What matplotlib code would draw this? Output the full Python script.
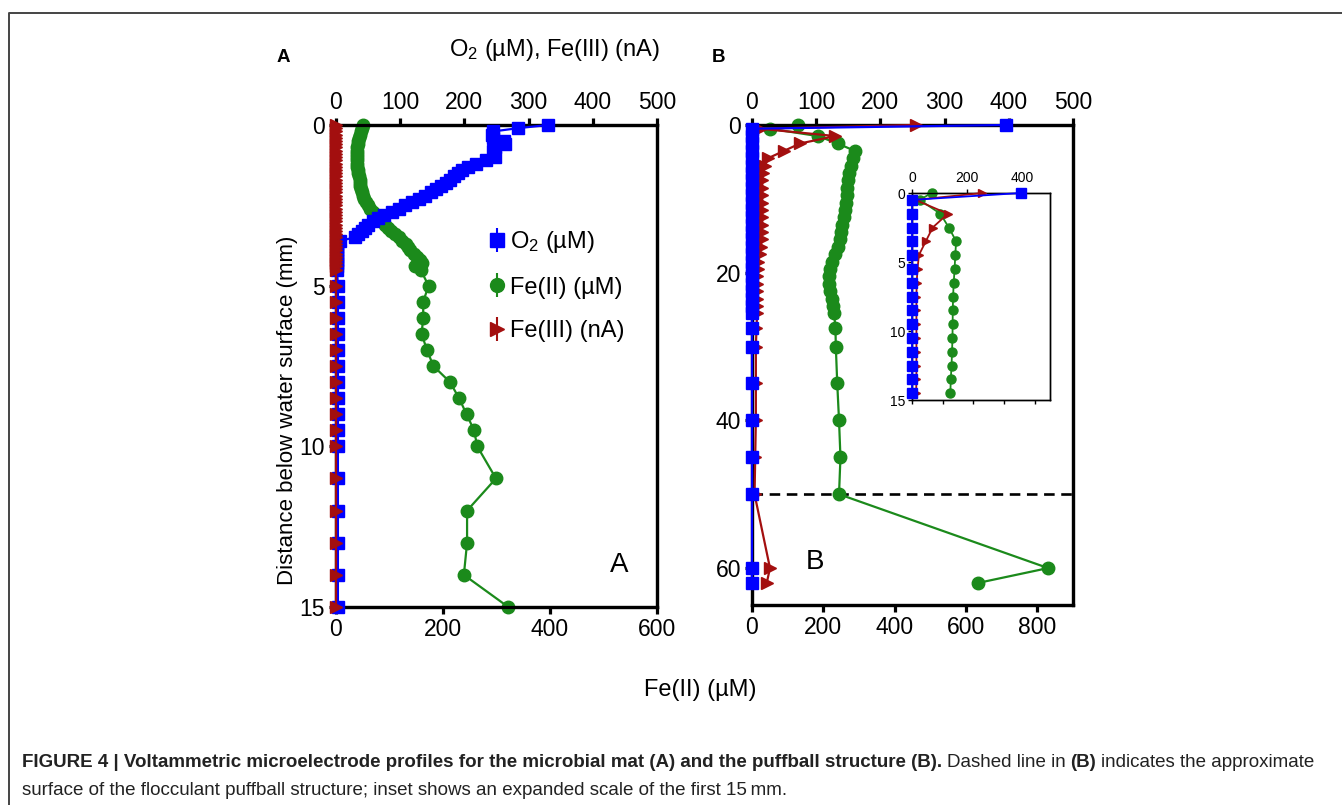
import matplotlib
matplotlib.use("Agg")
import matplotlib.pyplot as plt
import numpy as np
from matplotlib import font_manager
from matplotlib.lines import Line2D
from matplotlib.legend_handler import HandlerTuple

plt.rcParams['font.family'] = ['Liberation Sans', 'DejaVu Sans']
plt.rcParams['mathtext.fontset'] = 'custom'
plt.rcParams['mathtext.rm'] = 'Liberation Sans'
plt.rcParams['mathtext.it'] = 'Liberation Sans:italic'

BLUE = '#0000ff'
GREEN = '#1b8a1b'
RED = '#a30f0f'

# ---- panel A: microbial mat (depth in mm) ----
depth_a = [0.0, 0.1, 0.2, 0.3, 0.4, 0.5, 0.6, 0.7, 0.8, 0.9, 1.0,
           1.1, 1.2, 1.3, 1.4, 1.5, 1.6, 1.7, 1.8, 1.9, 2.0,
           2.1, 2.2, 2.3, 2.4, 2.5, 2.6, 2.7, 2.8, 2.9, 3.0,
           3.1, 3.2, 3.3, 3.4, 3.5, 3.6, 3.7, 3.8, 3.9, 4.0,
           4.1, 4.2, 4.3, 4.4, 4.5,
           5.0, 5.5, 6.0, 6.5, 7.0, 7.5, 8.0, 8.5, 9.0, 9.5, 10.0,
           11, 12, 13, 14, 15]
o2_a = [330, 283, 245, 243, 244, 262, 263, 248, 245, 246, 247,
        234, 218, 205, 197, 190, 184, 178, 172, 164, 156,
        148, 139, 129, 119, 108, 98, 87, 75, 65, 57,
        50, 45, 40, 35, 30, 6, 2, 1, 1, 1,
        1, 1, 1, 1, 1,
        3, 3, 3, 3, 3, 3, 3, 3, 3, 3, 3,
        3, 3, 3, 3, 3]
fe2_a = [50, 48, 46, 44, 43, 42, 41, 40, 39, 39, 39,
         39, 40, 40, 41, 42, 43, 44, 45, 45, 46,
         48, 50, 53, 56, 60, 64, 69, 73, 79, 85,
         91, 97, 103, 110, 118, 124, 131, 135, 139, 145,
         152, 157, 160, 147, 158,
         173, 163, 163, 160, 170, 182, 213, 230, 244, 258, 264,
         299, 245, 245, 239, 322]
fe3_a = [0, 0, 0, 0, 0, 0, 0, 0, 0, 0, 0,
         0, 0, 0, 0, 0, 0, 0, 0, 0, 0,
         0, 0, 0, 0, 0, 0, 0, 0, 0, 0,
         0, 0, 0, 0, 0, 0, 0, 0, 0, 0,
         0, 0, 0, 0, 0,
         0, 0, 0, 0, 0, 0, 0, 0, 0, 0, 0,
         0, 0, 0, 0, 0]

# ---- panel B: puffball structure ----
depth_b = [0, 0.5, 1.5, 2.5, 3.5, 4.5, 5.5, 6.5, 7.5, 8.5, 9.5, 10.5, 11.5,
           12.5, 13.5, 14.5, 15.5, 16.5, 17.5, 18.5, 19.5, 20.5, 21.5, 22.5,
           23.5, 24.5, 25.5, 27.5, 30, 35, 40, 45, 50, 60, 62]
o2_b = [395, 0, 0, 0, 0, 0, 0, 0, 0, 0, 0, 0, 0,
        0, 0, 0, 0, 0, 0, 0, 0, 0, 0, 0,
        0, 0, 0, 0, 0, 0, 0, 0, 0, 0, 0]
fe2_b = [128, 50, 185, 240, 288, 282, 278, 272, 268, 266, 265, 264, 261,
         258, 253, 250, 246, 240, 233, 225, 218, 215, 217, 220,
         223, 226, 230, 234, 235, 239, 244, 248, 244, 830, 635]
fe3_b = [255, 12, 130, 75, 50, 25, 20, 17, 16, 16, 16, 16, 16,
         16, 16, 15, 15, 14, 12, 10, 9, 8, 8, 8,
         8, 8, 8, 7, 6, 6, 6, 5, 4, 28, 23]

W, H = 1342, 805
fig = plt.figure(figsize=(W / 100, H / 100), dpi=100)


def px_axes(x0, y0, x1, y1):
    return fig.add_axes([x0 / W, 1 - y1 / H, (x1 - x0) / W, (y1 - y0) / H])


def panel(rect, depth, o2, fe2, fe3, xmax, xticks, ymax, yticks, top_ticks,
          small=False, red_on_top=True):
    ax = px_axes(*rect)
    ms = (6.5, 6.5, 5.5) if small else (8, 9, 8.5)
    lw = 1.3 if small else 1.6
    ax.plot(fe2, depth, '-o', color=GREEN, ms=ms[1], lw=lw, clip_on=False, zorder=3)
    ax.set_xlim(0, xmax)
    ax.set_ylim(ymax, 0)
    ax2 = ax.twiny()
    zb, zr = (3, 4) if red_on_top else (4, 3)
    ax2.plot(o2, depth, '-s', color=BLUE, ms=ms[0], lw=lw, clip_on=False, zorder=zb)
    ax2.plot(fe3, depth, '->', color=RED, ms=ms[2], lw=lw, clip_on=False, zorder=zr)
    ax2.set_xlim(0, 500)
    ax2.set_ylim(ymax, 0)

    spw = 1.0 if small else 2.3
    fs = 10 if small else 16.5
    tl = 3 if small else 5
    for a in (ax, ax2):
        for s in a.spines.values():
            s.set_linewidth(spw)
            s.set_color('black')
    ax.set_xticks(xticks)
    ax.set_yticks(yticks)
    ax.tick_params(axis='both', direction='out', length=tl, width=spw,
                   labelsize=fs, pad=3, top=False, right=False)
    ax2.set_xticks(top_ticks)
    ax2.tick_params(axis='x', direction='out', length=tl, width=spw,
                    labelsize=fs, pad=3, top=True, bottom=False,
                    labeltop=True, labelbottom=False)
    if small:
        ax.set_xticklabels([])
        ax.tick_params(axis='y', pad=2)
    return ax, ax2


# panel A
axA, axA2 = panel((336, 125, 657, 607), depth_a, o2_a, fe2_a, fe3_a,
                  600, [0, 200, 400, 600], 15, [0, 5, 10, 15],
                  [0, 100, 200, 300, 400, 500])

handles = [
    (Line2D([], [], color=BLUE, marker='|', ms=17, mew=1.5, ls='none'),
     Line2D([], [], color=BLUE, marker='s', ms=9.5, ls='none')),
    (Line2D([], [], color=GREEN, marker='|', ms=17, mew=1.5, ls='none'),
     Line2D([], [], color=GREEN, marker='o', ms=10, ls='none')),
    (Line2D([], [], color=RED, marker='|', ms=17, mew=1.5, ls='none'),
     Line2D([], [], color=RED, marker='>', ms=9.5, ls='none')),
]
labels = ['O$_2$ (\u00b5M)', 'Fe(II) (\u00b5M)', 'Fe(III) (nA)']
axA2.legend(handles, labels, handler_map={tuple: HandlerTuple(ndivide=1)},
            loc='upper left', bbox_to_anchor=(0.435, 0.808), frameon=False,
            fontsize=17, handlelength=0.8, handletextpad=0.15,
            labelspacing=0.9, borderpad=0)

# panel B
axB, axB2 = panel((752, 125, 1073, 605), depth_b, o2_b, fe2_b, fe3_b,
                  900, [0, 200, 400, 600, 800], 65, [0, 20, 40, 60],
                  [0, 100, 200, 300, 400, 500], red_on_top=False)
axB.axhline(50, color='black', ls=(0, (4, 2.5)), lw=1.9, zorder=1)

# inset: first 15 mm of panel B
dB = np.array(depth_b)
keep = dB <= 15
insB, insB2 = panel((912, 193, 1050, 400), dB[keep], np.array(o2_b)[keep],
                    np.array(fe2_b)[keep], np.array(fe3_b)[keep],
                    900, [0, 200, 400, 600, 800], 15, [0, 5, 10, 15],
                    [0, 200, 400], small=True, red_on_top=False)
insB.set_facecolor('white')

# labels
fig.text(555 / W, 1 - 50 / H, 'O$_2$ (\u00b5M), Fe(III) (nA)', fontsize=17,
         ha='center', va='center')
fig.text(700 / W, 1 - 690 / H, 'Fe(II) (\u00b5M)', fontsize=17,
         ha='center', va='center')
fig.text(287 / W, 1 - 410 / H, 'Distance below water surface (mm)', fontsize=16,
         ha='center', va='center', rotation=90)
fig.text(283 / W, 1 - 58 / H, 'A', fontsize=13.5, weight='bold', ha='center', va='center')
fig.text(718 / W, 1 - 58 / H, 'B', fontsize=13.5, weight='bold', ha='center', va='center')
fig.text(619 / W, 1 - 565 / H, 'A', fontsize=20, ha='center', va='center')
fig.text(815 / W, 1 - 562 / H, 'B', fontsize=20, ha='center', va='center')

# frame lines of the figure box
fig.add_artist(Line2D([9 / W, 9 / W, 1], [0, 1 - 13 / H, 1 - 13 / H],
                      transform=fig.transFigure, color='#444444', lw=1.4))

# caption
cap_family = ['Liberation Sans']
try:
    font_manager.findfont('Liberation Sans Narrow', fallback_to_default=False)
    cap_family = ['Liberation Sans Narrow', 'Liberation Sans']
except Exception:
    pass

line1 = [('FIGURE 4 | Voltammetric microelectrode profiles for the microbial mat (A) '
          'and the puffball structure (B).', 'bold'),
         ('Dashed line in', 'normal'), ('(B)', 'bold'),
         ('indicates the approximate', 'normal')]
line2 = [('surface of the flocculant puffball structure; inset shows an expanded '
          'scale of the first 15\u2009mm.', 'normal')]

renderer = fig.canvas.get_renderer()


def write_line(parts, y, fs, draw=True):
    x = 22
    texts = []
    for s, w in parts:
        t = fig.text(x / W, 1 - y / H, s, fontsize=fs, weight=w, family=cap_family,
                     va='center', ha='left', color='#222222')
        bb = t.get_window_extent(renderer)
        x = bb.x1 + fs * 1.389 * 0.25
        texts.append(t)
    if not draw:
        for t in texts:
            t.remove()
    return x


fs_cap = 11
width = write_line(line1, 762, fs_cap, draw=False) - 22
fs_cap = fs_cap * 1300 / width
write_line(line1, 762, fs_cap)
write_line(line2, 790, fs_cap)

fig.savefig('out.png', dpi=100)
